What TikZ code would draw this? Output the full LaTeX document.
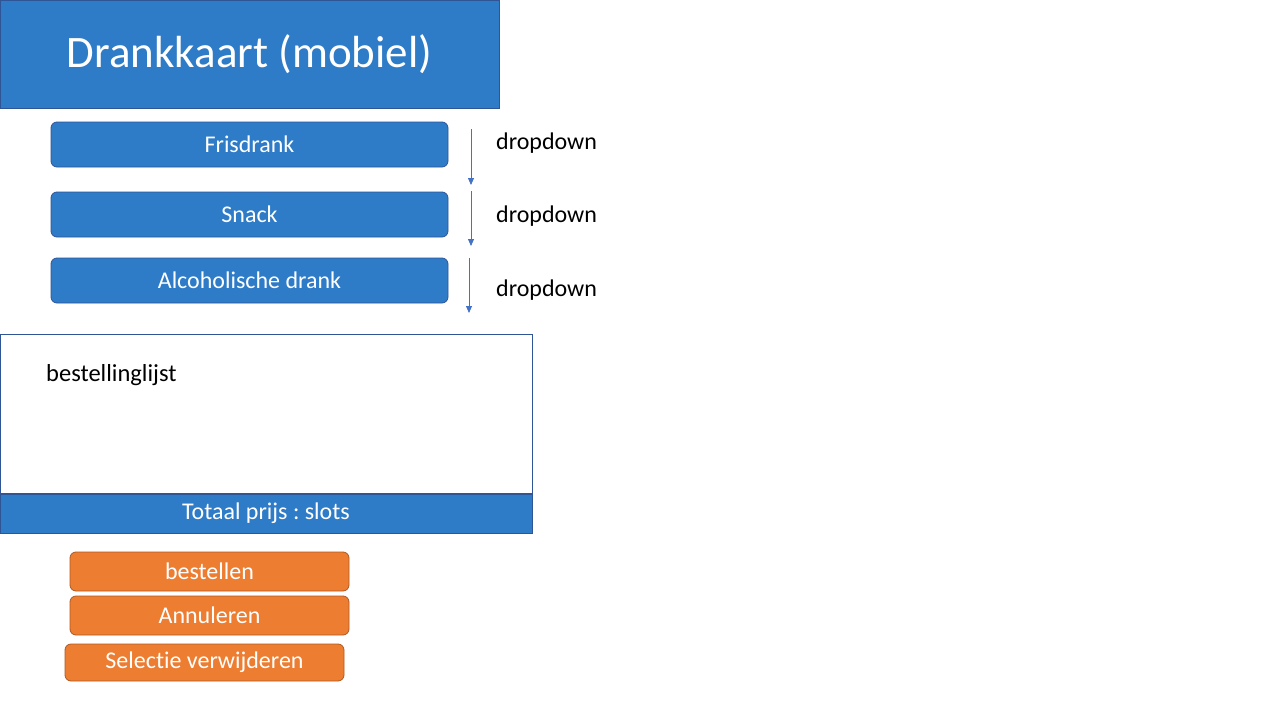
\documentclass[tikz,border=0pt]{standalone}
\usepackage{fontspec}
\setmainfont[Ligatures=NoCommon]{Carlito}
\usetikzlibrary{arrows.meta}
\definecolor{pblue}{HTML}{2E7BC7}
\definecolor{pbord}{HTML}{2F5597}
\definecolor{porange}{HTML}{ED7D31}
\definecolor{pobord}{HTML}{AE5A21}
\definecolor{parrow}{HTML}{4472C4}
\frenchspacing
\tikzset{
  bluebox/.style={draw=pbord, fill=pblue, line width=0.8pt, inner sep=0pt, text=white},
  menubox/.style={bluebox, rounded corners=6pt, minimum width=397pt, minimum height=45pt, font=\fontsize{24}{28}\selectfont},
  btnbox/.style={draw=pobord, fill=porange, line width=0.8pt, rounded corners=6pt, inner sep=0pt, text=white, minimum width=279pt, font=\fontsize{24}{28}\selectfont},
  ddlabel/.style={anchor=base west, inner sep=0pt, font=\fontsize{24}{28}\selectfont},
  ddarrow/.style={draw=parrow, line width=0.8pt, -{Triangle[width=6pt,length=7pt]}}
}
\begin{document}
\begin{tikzpicture}[x=1pt,y=-1pt]
\useasboundingbox (0,0) rectangle (1280,720);
\fill[white] (0,0) rectangle (1280,720);
\node[bluebox, minimum width=499pt, minimum height=108pt, font=\fontsize{45}{50}\selectfont] (title) at (249.5,54) {Drankkaart (mobiel)};
\node[menubox] (fris) at (249.5,144.5) {Frisdrank};
\node[menubox] (snack) at (249.5,214.5) {Snack};
\node[menubox] (alc) at (249.5,280.5) {Alcoholische drank};
\coordinate (a1s) at (471,129); \coordinate (a1e) at (471,185);
\coordinate (a2s) at (471,191); \coordinate (a2e) at (471,246);
\coordinate (a3s) at (469,258); \coordinate (a3e) at (469,313);
\draw[ddarrow] (a1s) -- (a1e);
\draw[ddarrow] (a2s) -- (a2e);
\draw[ddarrow] (a3s) -- (a3e);
\node[ddlabel] (dd1) at (496,149) {dropdown};
\node[ddlabel] (dd2) at (496,222) {dropdown};
\node[ddlabel] (dd3) at (496,296) {dropdown};
\node[draw=pbord, fill=white, line width=0.8pt, minimum width=532pt, minimum height=159pt, inner sep=0pt] (list) at (266,413.5) {};
\node[anchor=base west, inner sep=0pt, font=\fontsize{24.5}{28}\selectfont] (listlbl) at (46,381) {bestellinglijst};
\node[bluebox, minimum width=532pt, minimum height=39pt, font=\fontsize{24}{28}\selectfont] (total) at (266,513.5) {Totaal prijs : slots};
\node[btnbox, minimum height=39pt] (best) at (209.5,571.5) {bestellen};
\node[btnbox, minimum height=39pt] (ann) at (209.5,615.5) {Annuleren};
\node[btnbox, minimum height=37pt] (sel) at (204.5,662.5) {Selectie verwijderen};
\end{tikzpicture}
\end{document}
